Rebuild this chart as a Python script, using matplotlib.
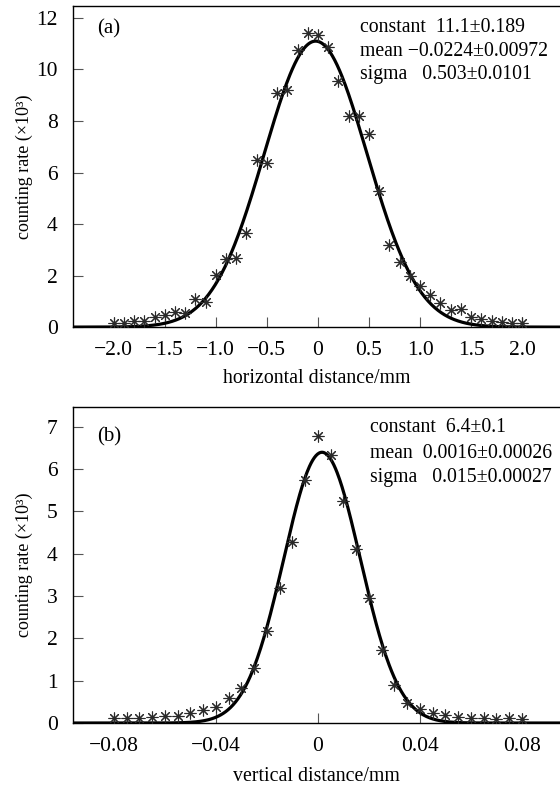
import numpy as np
import matplotlib
matplotlib.use('Agg')
import matplotlib.pyplot as plt

plt.rcParams['font.family'] = ['Liberation Serif', 'DejaVu Serif']
plt.rcParams['axes.unicode_minus'] = True

# panel (a): horizontal profile
h_x = [round(-2.0 + 0.1 * i, 1) for i in range(41)]
h_y = [0.17, 0.17, 0.24, 0.24, 0.40, 0.47, 0.59, 0.53, 1.09, 0.98,
       2.03, 2.66, 2.70, 3.67, 6.50, 6.37, 9.08, 9.19, 10.76, 11.41,
       11.34, 10.86, 9.57, 8.18, 8.20, 7.50, 5.28, 3.18, 2.53, 1.98,
       1.59, 1.24, 0.92, 0.66, 0.72, 0.40, 0.30, 0.24, 0.21, 0.17, 0.14]
h_fit = (11.1, -0.0224, 0.503)   # constant, mean, sigma
h_fit_text = ["constant  11.1\u00b10.189",
              "mean \u22120.0224\u00b10.00972",
              "sigma   0.503\u00b10.0101"]
h_ticks = [-2.0, -1.5, -1.0, -0.5, 0, 0.5, 1.0, 1.5, 2.0]
h_ticklabels = ["\u22122.0", "\u22121.5", "\u22121.0", "\u22120.5", "0",
                "0.5", "1.0", "1.5", "2.0"]

# panel (b): vertical profile
v_x = [round(-0.08 + 0.005 * i, 3) for i in range(33)]
v_y = [0.13, 0.13, 0.13, 0.15, 0.17, 0.17, 0.23, 0.31, 0.39, 0.58,
       0.82, 1.29, 2.17, 3.18, 4.29, 5.74, 6.79, 6.34, 5.25, 4.11,
       2.96, 1.73, 0.90, 0.47, 0.33, 0.23, 0.19, 0.15, 0.13, 0.13,
       0.09, 0.13, 0.09]
v_fit = (6.4, 0.0016, 0.015)
v_fit_text = ["constant  6.4\u00b10.1",
              "mean  0.0016\u00b10.00026",
              "sigma   0.015\u00b10.00027"]
v_ticks = [-0.08, -0.04, 0, 0.04, 0.08]
v_ticklabels = ["\u22120.08", "\u22120.04", "0", "0.04", "0.08"]


def gauss(x, c, m, s):
    return c * np.exp(-0.5 * ((x - m) / s) ** 2)


def panel(ax, x, y, fit, fit_text, xlim, ylim, yticks, xticks, xticklabels,
          xlabel, xlabel_y, tag, tag_y, text_x, text_ys):
    xs = np.linspace(xlim[0], xlim[1], 600)
    ax.plot(xs, gauss(xs, *fit), color='black', lw=2.3, zorder=2)
    ax.plot(x, y, ls='none', marker=(8, 2, 0), ms=8.5, mew=0.8,
            color='#2a2a2a', zorder=3)
    ax.set_xlim(*xlim)
    ax.set_ylim(*ylim)
    ax.set_xticks(xticks)
    ax.set_xticklabels(xticklabels)
    ax.set_yticks(yticks)
    ax.tick_params(direction='in', length=7, width=0.8, labelsize=15.5,
                   color='#555555')
    ax.tick_params(axis='x', pad=10)
    ax.tick_params(axis='y', pad=11)
    ax.spines['right'].set_visible(False)
    for s in ['left', 'top', 'bottom']:
        ax.spines[s].set_linewidth(1.0)
    ax.set_xlabel(xlabel, fontsize=14.3)
    ax.xaxis.set_label_coords(0.5, xlabel_y)
    ax.set_ylabel("counting rate (\u00d710\u00b3)", fontsize=13)
    ax.yaxis.set_label_coords(-0.082, 0.5)
    ax.text(0.05, tag_y, tag, transform=ax.transAxes, fontsize=15,
            va='center')
    for t, ty in zip(fit_text, text_ys):
        ax.text(text_x, ty, t, transform=ax.transAxes, fontsize=14.2,
                va='center')


fig = plt.figure(figsize=(5.6, 7.92), dpi=100)
ax1 = fig.add_axes([0.130, 0.587, 0.870, 0.405])
ax2 = fig.add_axes([0.130, 0.0871, 0.870, 0.399])

panel(ax1, h_x, h_y, h_fit, h_fit_text, (-2.40, 2.37), (0, 12.45),
      range(0, 13, 2), h_ticks, h_ticklabels, "horizontal distance/mm",
      -0.13, "(a)", 0.931, 0.589, [0.935, 0.860, 0.788])
panel(ax2, v_x, v_y, v_fit, v_fit_text, (-0.0961, 0.0949), (0, 7.47),
      range(0, 8), v_ticks, v_ticklabels, "vertical distance/mm",
      -0.14, "(b)", 0.905, 0.610, [0.934, 0.854, 0.778])

fig.savefig("out.png", dpi=100)
